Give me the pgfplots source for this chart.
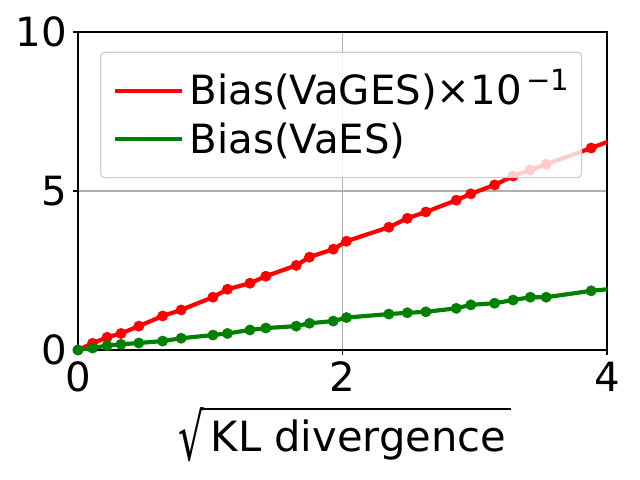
\documentclass[border=0pt]{standalone}
\usepackage{graphicx}
\usepackage{fontspec}
\setmainfont{DejaVu Sans}
\usepackage{pgfplots}
\pgfplotsset{compat=1.18}
\newcommand{\sqrtlabel}[1]{\setbox0\hbox{#1}%
  \raisebox{-0.24em}{\raisebox{\depth}{\resizebox*{0.62em}{1.3em}{√}}}%
  \kern-0.04em\rlap{\rule[1.0em]{\dimexpr\wd0+0.3em\relax}{0.055em}}\kern0.19em\box0}
\pgfplotstableread{
x y
0 0
0.11 0.21
0.22 0.40
0.325 0.52
0.46 0.75
0.64 1.07
0.78 1.26
1.02 1.66
1.13 1.91
1.30 2.10
1.42 2.32
1.65 2.66
1.75 2.92
1.93 3.17
2.03 3.42
2.35 3.86
2.49 4.14
2.63 4.34
2.86 4.71
2.97 4.91
3.15 5.19
3.29 5.47
3.42 5.66
3.54 5.84
3.88 6.35
4.10 6.70
}\vages
\pgfplotstableread{
x y
0 0
0.11 0.06
0.22 0.14
0.325 0.18
0.46 0.22
0.64 0.28
0.78 0.37
1.02 0.47
1.13 0.52
1.30 0.63
1.42 0.69
1.65 0.75
1.75 0.84
1.93 0.91
2.03 1.02
2.35 1.13
2.49 1.17
2.63 1.20
2.86 1.31
2.97 1.42
3.15 1.47
3.29 1.57
3.42 1.66
3.54 1.66
3.88 1.86
4.10 1.95
}\vaes
\definecolor{mplgreen}{RGB}{0,128,0}
\begin{document}
\fontsize{29}{35}\selectfont
\begin{tikzpicture}
\begin{axis}[
  scale only axis, width=380.9pt, height=229pt,
  xmin=0, xmax=4, ymin=0, ymax=10,
  xtick={0,2,4}, ytick={0,5,10},
  xtick pos=bottom, ytick pos=left,
  grid=major, major grid style={color=black!31, line width=0.8pt},
  axis line style={line width=1.8pt},
  tick style={black, line width=1pt}, tick align=outside, major tick length=3.5pt,
  tick label style={font=\fontsize{29}{35}\selectfont, inner sep=0pt},
  xticklabel style={yshift=-4.9pt},
  yticklabel style={xshift=-4.1pt},
  /pgf/number format/assume math mode=true,
  xlabel={\sqrtlabel{KL divergence}},
  xlabel style={font=\fontsize{30}{36}\selectfont, at={(axis description cs:0.5,0)}, anchor=base, yshift=-73.2pt, inner sep=0pt},
  legend cell align=left,
  legend style={at={(0.0416,0.938)}, anchor=north west, fill=white, fill opacity=0.8, text opacity=1,
    draw=black!20, line width=0.8pt, rounded corners=3pt, font=\fontsize{29}{35}\selectfont,
    inner xsep=9.1pt, inner ysep=12pt, row sep=3.7pt,
    nodes={inner sep=0pt, text height=25.6pt, text depth=5.7pt}},
  legend image code/.code={\draw[#1, mark=none] (0pt,0pt) -- (48pt,0pt); \path (52pt,0pt);},
]
\addplot[red, line width=3pt, mark=*, mark size=3.7pt, mark options={line width=0.4pt, fill=red}] table {\vages};
\addlegendentry{Bias(VaGES)×10\kern3pt\raisebox{10pt}{\fontsize{21}{21}\selectfont −1}\hspace{23pt}}
\addplot[mplgreen, line width=3pt, mark=*, mark size=3.7pt, mark options={line width=0.4pt, fill=mplgreen}] table {\vaes};
\addlegendentry{Bias(VaES)}
\end{axis}
\pgfresetboundingbox
\path ([shift={(-56.16pt,-93.6pt)}]current axis.south west) rectangle ++(460.8pt,345.6pt);
\end{tikzpicture}
\end{document}
